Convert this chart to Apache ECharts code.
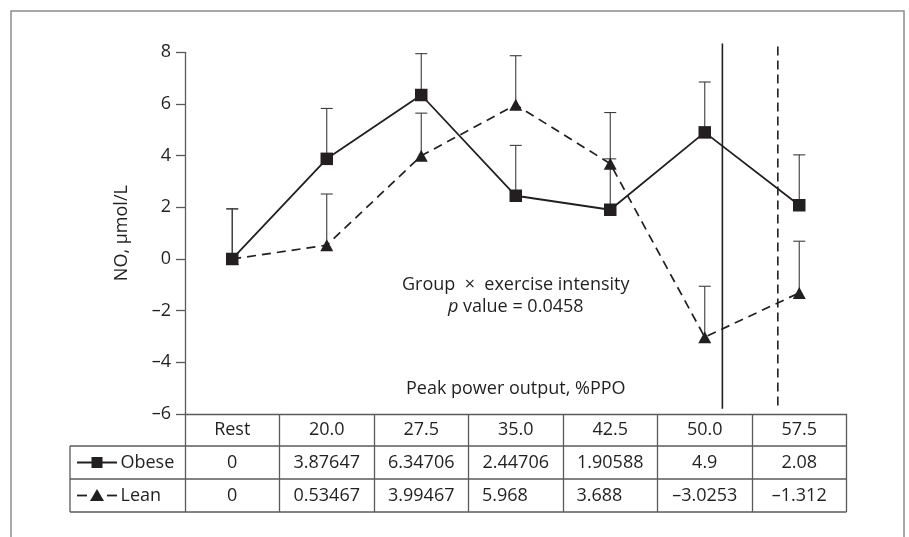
<!DOCTYPE html>
<html>
<head>
<meta charset="utf-8">
<script src="https://cdn.jsdelivr.net/npm/echarts@6/dist/echarts.min.js"></script>
<style>
  html, body { margin: 0; padding: 0; background: #ffffff; }
  #chart { width: 909px; height: 537px; }
</style>
</head>
<body>
<div id="chart"></div>
<script>
// Plasma NO change by exercise intensity, obese vs lean
const categories = ['Rest', '20.0', '27.5', '35.0', '42.5', '50.0', '57.5'];
const obese = [0, 3.87647, 6.34706, 2.44706, 1.90588, 4.9, 2.08];
const lean = [0, 0.53467, 3.99467, 5.968, 3.688, -3.0253, -1.312];
// upper error bar (SD) lengths
const obeseSD = [1.94, 1.95, 1.6, 1.95, 1.97, 1.95, 1.95];
const leanSD = [1.94, 1.98, 1.65, 1.9, 1.98, 1.97, 2.0];
// thresholds in %PPO: obese (solid), lean (dashed)
const thresholdPPO = [51.4, 55.8];
const yTicks = [-6, -4, -2, 0, 2, 4, 6, 8];

const INK = '#231f20';
const RULE = '#5a5a5c';
const FONT = 'Open Sans';

const fmt = v => String(v).replace('-', '\u2013');
// %PPO -> position on the category index scale (20.0 sits at index 1, steps of 7.5)
const ppoToIndex = p => 1 + (p - 20) / 7.5;

const chart = echarts.init(document.getElementById('chart'), null, { renderer: 'canvas' });

function errorBars(values, sd) {
  return categories.map((c, i) => [i, values[i], values[i] + sd[i]]);
}

function renderError(params, api) {
  const x = api.value(0);
  const p0 = api.coord([x, api.value(1)]);
  const p1 = api.coord([x, api.value(2)]);
  const hw = 6;
  const style = { stroke: '#3c3c3c', lineWidth: 1.1 };
  return {
    type: 'group',
    children: [
      { type: 'line', shape: { x1: p0[0], y1: p0[1], x2: p1[0], y2: p1[1] }, style },
      { type: 'line', shape: { x1: p1[0] - hw, y1: p1[1], x2: p1[0] + hw, y2: p1[1] }, style }
    ]
  };
}

const option = {
  backgroundColor: '#ffffff',
  animation: false,
  textStyle: { fontFamily: FONT },
  grid: { left: 185, right: 62.5, top: 52.3, bottom: 123, containLabel: false },
  xAxis: [
    {
      type: 'category',
      data: categories,
      boundaryGap: true,
      axisLine: { show: true, onZero: false, lineStyle: { color: RULE, width: 1.3 } },
      axisTick: { show: true, interval: 0, length: 98, lineStyle: { color: RULE, width: 1.3 } },
      axisLabel: { interval: 0, margin: 16, verticalAlign: 'middle', fontSize: 18, color: INK, fontFamily: FONT },
      splitLine: { show: false }
    },
    { type: 'value', min: -0.5, max: 6.5, show: false }
  ],
  yAxis: {
    type: 'value',
    min: yTicks[0],
    max: yTicks[yTicks.length - 1],
    interval: 2,
    name: 'NO, \u00b5mol/L',
    nameLocation: 'middle',
    nameGap: 54,
    nameTextStyle: { fontSize: 18, color: INK, fontFamily: FONT },
    axisLine: { show: true, onZero: false, lineStyle: { color: RULE, width: 1.3 } },
    axisTick: { show: true, length: 9, lineStyle: { color: RULE, width: 1.3 } },
    axisLabel: { margin: 14, fontSize: 18, color: INK, fontFamily: FONT, formatter: v => fmt(v) },
    splitLine: { show: false }
  },
  series: [
    {
      name: 'Obese SD', type: 'custom', renderItem: renderError,
      data: errorBars(obese, obeseSD), z: 1, silent: true
    },
    {
      name: 'Lean SD', type: 'custom', renderItem: renderError,
      data: errorBars(lean, leanSD), z: 1, silent: true
    },
    {
      name: 'Obese threshold', type: 'line', xAxisIndex: 1, clip: false, symbol: 'none', z: 2,
      data: [[ppoToIndex(thresholdPPO[0]), -5.8], [ppoToIndex(thresholdPPO[0]), 8.34]],
      lineStyle: { color: INK, width: 1.6 }
    },
    {
      name: 'Lean threshold', type: 'line', xAxisIndex: 1, clip: false, symbol: 'none', z: 2,
      data: [[ppoToIndex(thresholdPPO[1]), -5.67], [ppoToIndex(thresholdPPO[1]), 8.34]],
      lineStyle: { color: INK, width: 1.6, type: [9, 5] }
    },
    {
      name: 'Lean', type: 'line', data: lean, z: 3,
      symbol: 'triangle', symbolSize: [13, 12], showAllSymbol: true,
      lineStyle: { color: INK, width: 1.7, type: [9, 6] },
      itemStyle: { color: INK, borderWidth: 0 }
    },
    {
      name: 'Obese', type: 'line', data: obese, z: 4,
      symbol: 'rect', symbolSize: 12.5, showAllSymbol: true,
      lineStyle: { color: INK, width: 1.8 },
      itemStyle: { color: INK, borderWidth: 0 }
    }
  ]
};

chart.setOption(option);

// data table below the plot, aligned with the category columns
const centers = categories.map((c, i) => chart.convertToPixel({ xAxisIndex: 0 }, c));
const colW = centers[1] - centers[0];
const tableLeft = 70;
const axisY = chart.convertToPixel({ yAxisIndex: 0 }, yTicks[0]);
const rowTop = [axisY + 32, axisY + 65];
const rowH = 33;
const tableRight = centers[centers.length - 1] + colW / 2;
const tableBottom = rowTop[1] + rowH;

const graphics = [];
// outer frame
graphics.push({
  type: 'polyline', silent: true,
  shape: { points: [[11, 560], [11, 11], [904, 11], [904, 560]] },
  style: { stroke: '#8c8c8c', lineWidth: 1.5, fill: null }
});
// horizontal rules of the two data rows
[rowTop[0], rowTop[1], tableBottom].forEach(y => {
  graphics.push({
    type: 'line', silent: true,
    shape: { x1: tableLeft, y1: y, x2: tableRight, y2: y },
    style: { stroke: RULE, lineWidth: 1.3 }
  });
});
graphics.push({
  type: 'line', silent: true,
  shape: { x1: tableLeft, y1: rowTop[0], x2: tableLeft, y2: tableBottom },
  style: { stroke: RULE, lineWidth: 1.3 }
});

// legend keys in the first column
const cy0 = rowTop[0] + rowH / 2;
const cy1 = rowTop[1] + rowH / 2;
graphics.push(
  { type: 'line', silent: true, shape: { x1: 77, y1: cy0, x2: 117, y2: cy0 }, style: { stroke: INK, lineWidth: 1.8 } },
  { type: 'rect', silent: true, shape: { x: 91.5, y: cy0 - 5.5, width: 11, height: 11 }, style: { fill: INK } },
  { type: 'line', silent: true, shape: { x1: 77, y1: cy1, x2: 87, y2: cy1 }, style: { stroke: INK, lineWidth: 1.8 } },
  { type: 'line', silent: true, shape: { x1: 107, y1: cy1, x2: 117, y2: cy1 }, style: { stroke: INK, lineWidth: 1.8 } },
  { type: 'polygon', silent: true, shape: { points: [[97, cy1 - 6.5], [104, cy1 + 5.5], [90, cy1 + 5.5]] }, style: { fill: INK } },
  { type: 'text', silent: true, x: 120.5, y: cy0, style: { text: 'Obese', fontSize: 18, fontFamily: FONT, fill: INK, align: 'left', verticalAlign: 'middle' } },
  { type: 'text', silent: true, x: 120.5, y: cy1, style: { text: 'Lean', fontSize: 18, fontFamily: FONT, fill: INK, align: 'left', verticalAlign: 'middle' } }
);

// cell values
const leftAlignedLean = new Set([3, 4]);
categories.forEach((c, i) => {
  graphics.push({
    type: 'text', silent: true, x: centers[i], y: cy0,
    style: { text: fmt(obese[i]), fontSize: 18, fontFamily: FONT, fill: INK, align: 'center', verticalAlign: 'middle' }
  });
  const left = leftAlignedLean.has(i);
  graphics.push({
    type: 'text', silent: true, x: left ? centers[i] - colW / 2 + 13.5 : centers[i], y: cy1,
    style: { text: fmt(lean[i]), fontSize: 18, fontFamily: FONT, fill: INK, align: left ? 'left' : 'center', verticalAlign: 'middle' }
  });
});

// statistics note and x-axis caption
const midX = centers[3];
graphics.push(
  {
    type: 'text', silent: true, x: midX, y: 285,
    style: { text: 'Group  \u00d7  exercise intensity', fontSize: 18, fontFamily: FONT, fill: INK, align: 'center', verticalAlign: 'middle' }
  },
  {
    type: 'text', silent: true, x: midX, y: 306.5,
    style: {
      text: '{i|p} value = 0.0458', fontSize: 18, fontFamily: FONT, fill: INK, align: 'center', verticalAlign: 'middle',
      rich: { i: { fontStyle: 'italic', fontSize: 18, fontFamily: FONT, fill: INK } }
    }
  },
  {
    type: 'text', silent: true, x: midX, y: 388.5,
    style: { text: 'Peak power output, %PPO', fontSize: 18, fontFamily: FONT, fill: INK, align: 'center', verticalAlign: 'middle' }
  }
);

chart.setOption({ graphic: { elements: graphics } });
</script>
</body>
</html>
